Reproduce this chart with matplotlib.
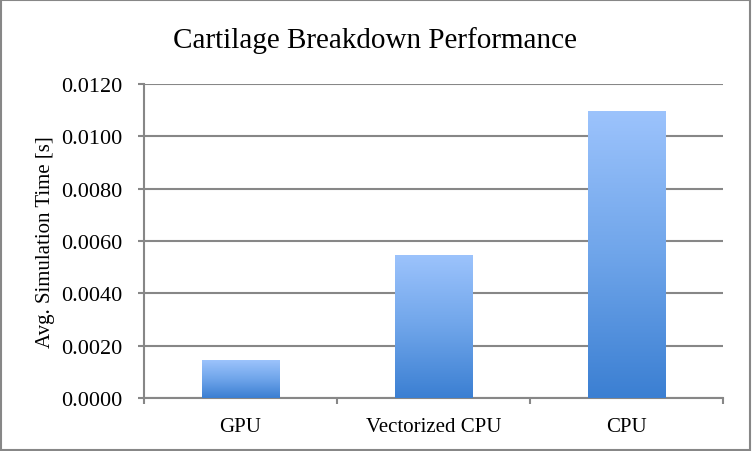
import numpy as np
import matplotlib.pyplot as plt
from matplotlib.colors import LinearSegmentedColormap

# Chart data
categories = ['GPU', 'Vectorized CPU', 'CPU']
avg_times = [0.00145, 0.00543, 0.01093]
y_ticks = [0.0, 0.002, 0.004, 0.006, 0.008, 0.010, 0.012]

grey = '#878787'
plt.rcParams['font.family'] = ['Liberation Serif', 'DejaVu Serif']

fig = plt.figure(figsize=(7.52, 4.52), dpi=100)
ax = fig.add_axes([0.1915, 0.1173, 0.77, 0.6947])

x = np.arange(len(categories))
bars = ax.bar(x, avg_times, width=0.4, color='none', zorder=3)

# vertical gradient inside every bar, light on top, darker at the bottom
cmap = LinearSegmentedColormap.from_list('bar', ['#3b7fd2', '#6fa5ea', '#9cc3fc'])
grad = np.linspace(0, 1, 256).reshape(-1, 1)
for b in bars:
    ax.imshow(grad, cmap=cmap, origin='lower', aspect='auto', zorder=3,
              extent=[b.get_x(), b.get_x() + b.get_width(), 0, b.get_height()])

ax.set_xlim(-0.5, len(categories) - 0.5)
ax.set_ylim(0, 0.012)
ax.set_yticks(y_ticks)
ax.set_yticklabels([f'{v:.4f}' for v in y_ticks])
ax.set_xticks(x)
ax.set_xticklabels(categories)
ax.set_xticks(np.arange(len(categories) + 1) - 0.5, minor=True)

ax.yaxis.grid(True, color=grey, linewidth=1.5, zorder=0)
ax.set_axisbelow(True)
for side in ['top', 'right']:
    ax.spines[side].set_visible(False)
for side in ['left', 'bottom']:
    ax.spines[side].set_color(grey)
    ax.spines[side].set_linewidth(1.5)

ax.tick_params(axis='y', length=4.5, width=1.5, color=grey, labelsize=16, pad=11)
ax.tick_params(axis='x', which='major', length=0, labelsize=15, pad=14)
ax.tick_params(axis='x', which='minor', length=4.5, width=1.5, color=grey)

ax.set_ylabel('Avg. Simulation Time [s]', fontsize=15)
ax.yaxis.set_label_coords(-0.154, 0.5)
fig.text(0.4987, 1 - 41 / 452, 'Cartilage Breakdown Performance', fontsize=21,
         ha='center', va='center')

# outer frame of the chart
fig.patches.append(plt.Rectangle((0.001, 0.002), 0.997, 0.996, transform=fig.transFigure,
                                 fill=False, edgecolor=grey, linewidth=1.5))

fig.savefig('out.png', dpi=100)
